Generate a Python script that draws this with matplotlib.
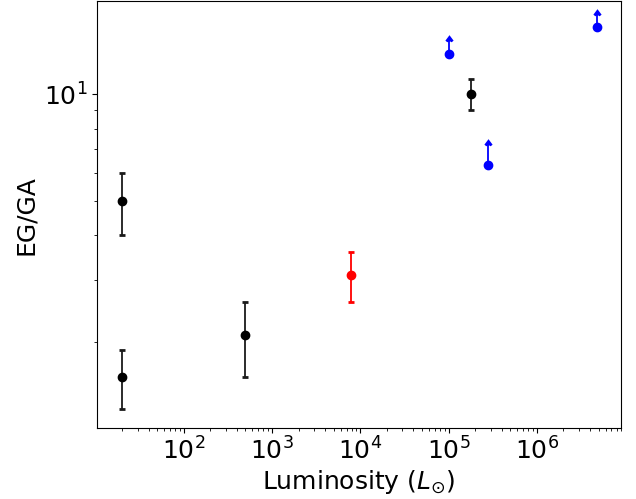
import matplotlib
matplotlib.use("Agg")
import matplotlib.pyplot as plt
import numpy as np

# Measured points
black_lum = [20, 20, 500, 1.8e5]
black_ratio = [5.0, 1.6, 2.1, 10.0]
black_err_lo = [1.0, 0.3, 0.5, 1.0]
black_err_hi = [1.0, 0.3, 0.5, 1.0]

red_lum = [7800]
red_ratio = [3.1]
red_err_lo = [0.5]
red_err_hi = [0.5]

# Lower limits
blue_lum = [1.0e5, 2.8e5, 4.8e6]
blue_ratio = [13.0, 6.3, 15.5]
blue_arrow = [1.1, 0.9, 1.2]

fig = plt.figure(figsize=(6.36, 4.99), dpi=100)
ax = fig.add_axes([0.1525, 0.142, 0.824, 0.856])

kw = dict(fmt='o', capsize=2, capthick=2, markersize=6, elinewidth=1.3)
ax.errorbar(black_lum, black_ratio, yerr=[black_err_lo, black_err_hi],
            color='black', ecolor=(0.1, 0.1, 0.1), **kw)
ax.errorbar(red_lum, red_ratio, yerr=[red_err_lo, red_err_hi],
            color='red', **kw)
ax.errorbar(blue_lum, blue_ratio, yerr=blue_arrow, lolims=True,
            color='blue', ecolor='blue', **kw)

ax.set_xscale('log')
ax.set_yscale('log')
ax.set_xlim(10.4, 9e6)
ax.set_ylim(1.146, 18.3)
ax.set_xlabel(r'Luminosity ($L_{\odot}$)', fontsize=18, labelpad=2)
ax.set_ylabel('EG/GA', fontsize=18)
ax.tick_params(labelsize=18)

fig.savefig('out.png', dpi=100)
